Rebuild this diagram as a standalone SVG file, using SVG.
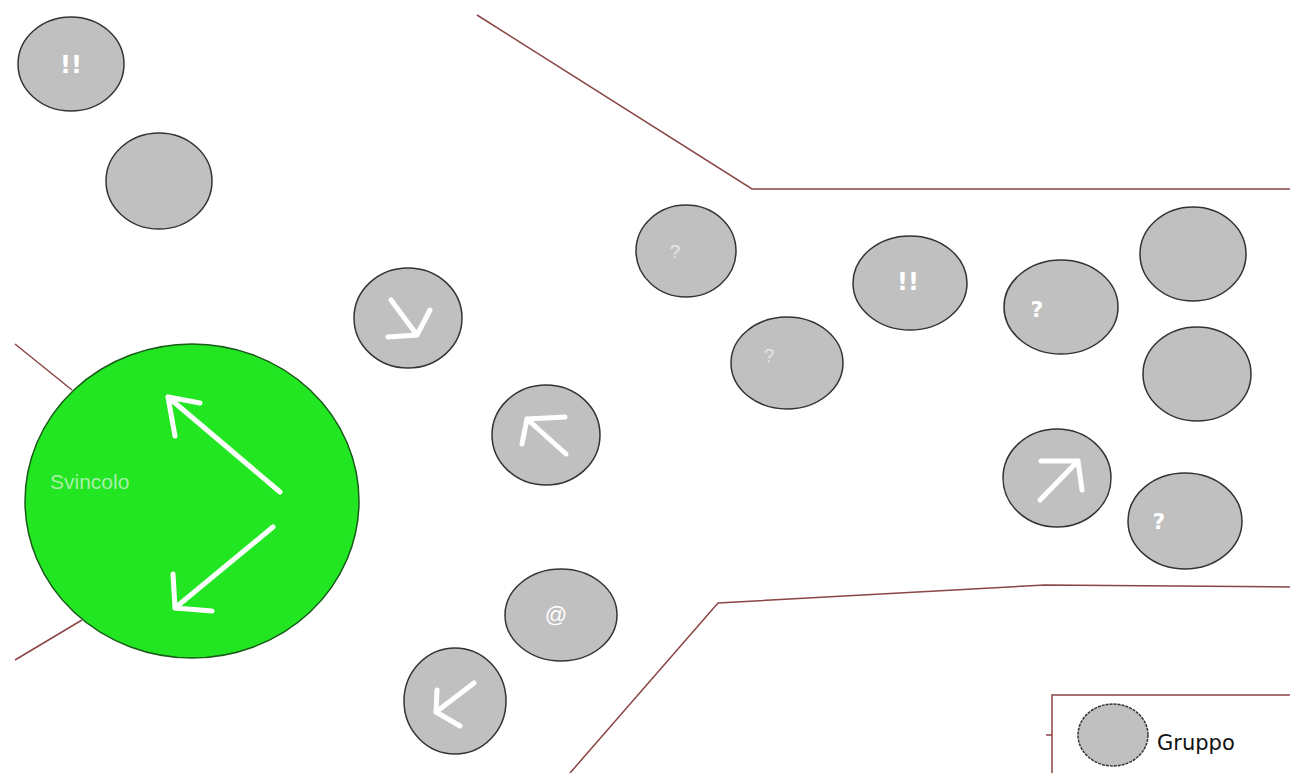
<svg xmlns="http://www.w3.org/2000/svg" width="1290" height="773" viewBox="0 0 1290 773">
<style>
.g{fill:#c0c0c0;stroke:#333;stroke-width:1.5}
.b{fill:none;stroke:#8a4545;stroke-width:1.5}
.a{fill:none;stroke:#fff;stroke-width:5;stroke-linecap:round;stroke-linejoin:round}
.t{font-family:"Liberation Sans",Arial,sans-serif;fill:#fff;text-anchor:middle}
.tb{font-family:"DejaVu Sans",Verdana,sans-serif;font-weight:bold;fill:#fff;text-anchor:middle}
</style>
<rect width="1290" height="773" fill="#fff"/>
<g id="connectors">
<polyline class="b" points="477,15 752,189 1290,189"/>
<polyline class="b" points="570,773 718,603 1045,585 1290,587"/>
<line class="b" x1="15" y1="344" x2="72" y2="390"/>
<line class="b" x1="15" y1="660" x2="82" y2="620"/>
<polyline class="b" points="1290,695 1052,695 1052,773"/>
<line class="b" x1="1046" y1="735" x2="1052" y2="735"/>
</g>
<g id="n1"><ellipse class="g" cx="71" cy="64" rx="53" ry="47"/><text class="tb" x="71" y="73" font-size="24">!!</text></g>
<g id="n2"><ellipse class="g" cx="159" cy="181" rx="53" ry="48"/></g>
<g id="svincolo">
<ellipse cx="192" cy="501" rx="167" ry="157" fill="#22e622" stroke="#1a5a1a" stroke-width="1.5"/>
<text x="50" y="489" font-family="Liberation Sans,Arial,sans-serif" font-size="21" fill="#a8f0a8">Svincolo</text>
<path class="a" d="M280,492 L168,397 M168,397 L200,403 M168,397 L175,436"/>
<path class="a" d="M273,527 L175,608 M175,608 L173,574 M175,608 L212,611"/>
</g>
<g id="n3"><ellipse class="g" cx="408" cy="318" rx="54" ry="50"/><path class="a" d="M391,300 L417,335 M417,335 L388,337 M417,335 L430,310"/></g>
<g id="n4"><ellipse class="g" cx="546" cy="435" rx="54" ry="50"/><path class="a" d="M566,454 L527,419 M527,419 L565,417 M527,419 L522,444"/></g>
<g id="n5"><ellipse class="g" cx="561" cy="615" rx="56" ry="46"/><text class="t" x="556" y="622" font-size="22" fill="#fff">@</text></g>
<g id="n6"><ellipse class="g" cx="455" cy="701" rx="51" ry="53"/><path class="a" d="M474,683 L436,712 M436,712 L437,690 M436,712 L460,726"/></g>
<g id="n7"><ellipse class="g" cx="686" cy="251" rx="50" ry="46"/><text class="t" x="675" y="258" font-size="19" style="fill:#e6e6e6">?</text></g>
<g id="n8"><ellipse class="g" cx="787" cy="363" rx="56" ry="46"/><text class="t" x="769" y="362" font-size="19" style="fill:#e6e6e6">?</text></g>
<g id="n9"><ellipse class="g" cx="910" cy="283" rx="57" ry="47"/><text class="tb" x="908" y="290" font-size="24">!!</text></g>
<g id="n10"><ellipse class="g" cx="1061" cy="307" rx="57" ry="47"/><text class="tb" x="1037" y="317" font-size="22">?</text></g>
<g id="n11"><ellipse class="g" cx="1193" cy="254" rx="53" ry="47"/></g>
<g id="n12"><ellipse class="g" cx="1197" cy="374" rx="54" ry="47"/></g>
<g id="n13"><ellipse class="g" cx="1057" cy="478" rx="54" ry="49"/><path class="a" d="M1040,500 L1078,461 M1078,461 L1041,461 M1078,461 L1082,490"/></g>
<g id="n14"><ellipse class="g" cx="1185" cy="521" rx="57" ry="48"/><text class="tb" x="1159" y="529" font-size="22">?</text></g>
<g id="legend">
<ellipse class="g" cx="1113" cy="735" rx="35" ry="31" stroke-dasharray="3,1"/>
<text x="1157" y="750" font-family="DejaVu Sans,Verdana,sans-serif" font-size="21" fill="#111">Gruppo</text>
</g>
</svg>
